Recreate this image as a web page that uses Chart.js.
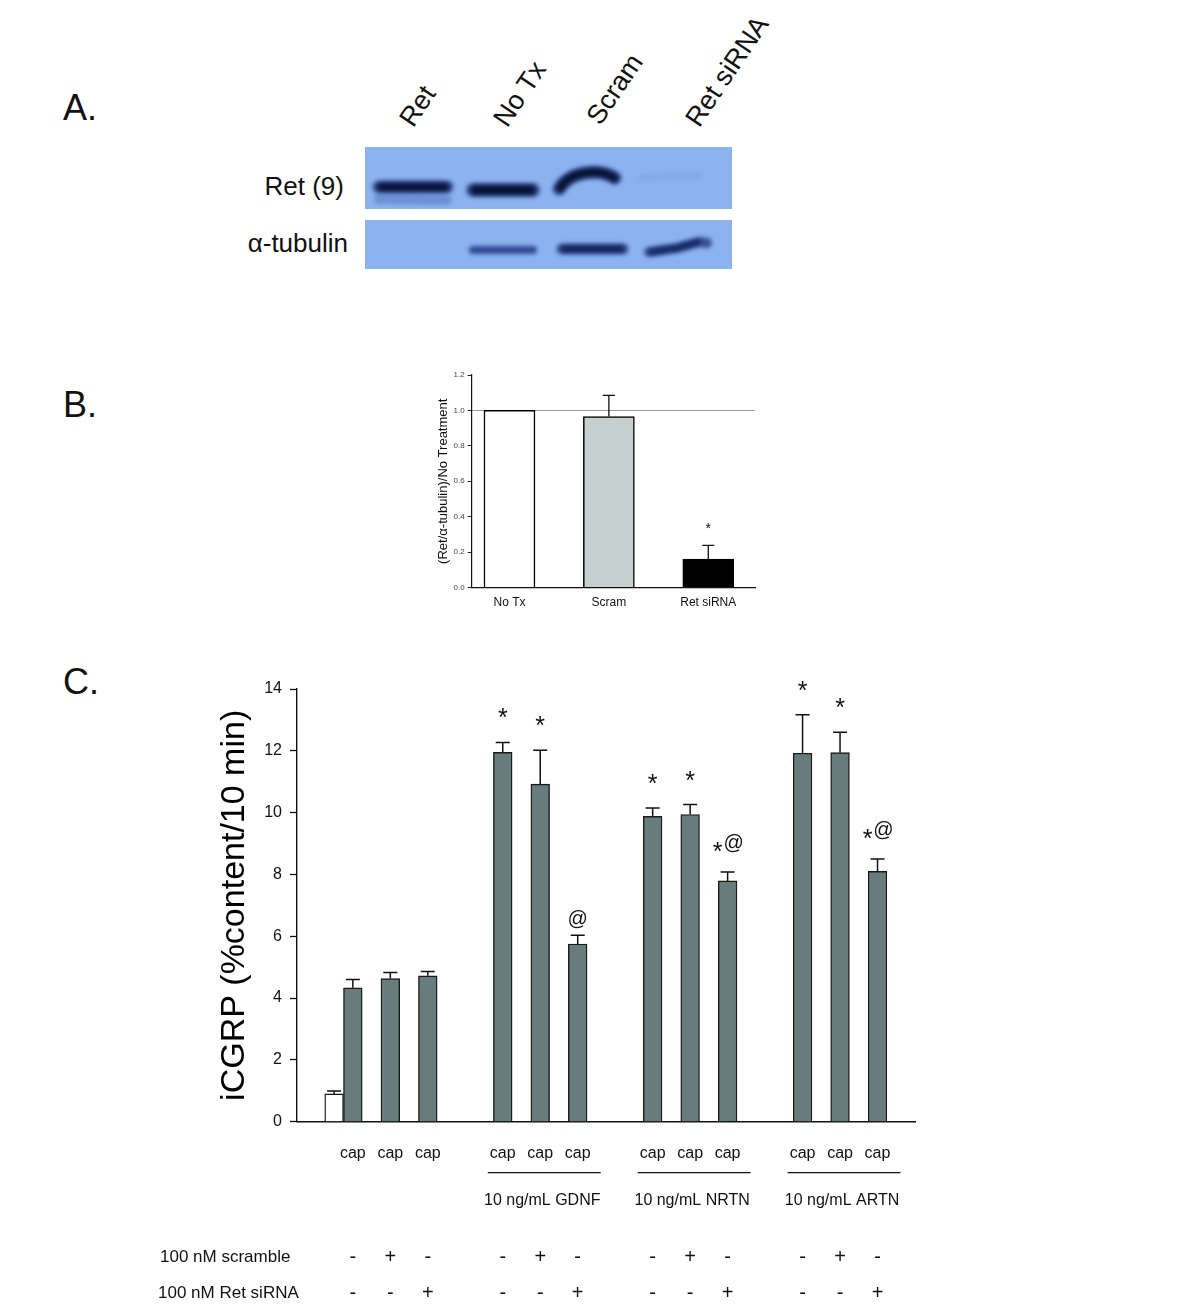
<!DOCTYPE html>
<html>
<head>
<meta charset="utf-8">
<script src="https://cdn.jsdelivr.net/npm/chart.js@4.4.1/dist/chart.umd.min.js"></script>
<style>
  html, body { margin: 0; padding: 0; background: #fff; }
  body { width: 1200px; height: 1307px; position: relative; overflow: hidden;
         font-family: Arial, "Liberation Sans", sans-serif; color: #111; }
  .lbl { position: absolute; white-space: nowrap; line-height: 1; }
  .panel { font-size: 36px; }
  .lane { font-size: 27px; transform: rotate(-56deg); transform-origin: 0 23px; }
  canvas { position: absolute; }
</style>
</head>
<body>

<div class="lbl panel" style="left:63px; top:90px;">A.</div>
<div class="lbl panel" style="left:63px; top:387px;">B.</div>
<div class="lbl panel" style="left:63px; top:664px;">C.</div>

<!-- blot lane labels -->
<div class="lbl lane" style="left:414px; top:106px;">Ret</div>
<div class="lbl lane" style="left:508px; top:106px;">No Tx</div>
<div class="lbl lane" style="left:601px; top:104px;">Scram</div>
<div class="lbl lane" style="left:700px; top:106px;">Ret siRNA</div>

<div class="lbl" style="left:0; width:344px; text-align:right; top:173px; font-size:26px;">Ret (9)</div>
<div class="lbl" style="left:0; width:348px; text-align:right; top:230px; font-size:26px;">&alpha;-tubulin</div>

<canvas id="blot" width="367" height="122" style="left:365px; top:147px;"></canvas>
<canvas id="chartB" width="350" height="260" style="left:420px; top:360px;"></canvas>
<canvas id="chartC" width="800" height="647" style="left:140px; top:660px;"></canvas>

<script>
const FONT = 'Arial, "Liberation Sans", sans-serif';
Chart.defaults.font.family = FONT;
Chart.defaults.color = '#111';

// ---- panel B data
const bCategories = ['No Tx', 'Scram', 'Ret siRNA'];
const bPositions = [0, 1, 2];
const bValues = [1.0, 0.965, 0.16];
const bErrors = [0, 0.12, 0.078];
const bMarks = ['', '', '*'];
const bColors = ['#ffffff', '#c5d0cf', '#000000'];

// ---- panel C data
const basalSlot = 0.5;
const basalValue = 0.9;
const basalError = 0.09;
const capSlots = [1, 2, 3, 5, 6, 7, 9, 10, 11, 13, 14, 15];
const capValues = [4.33, 4.63, 4.72, 11.95, 10.92, 5.75, 9.88, 9.94, 7.79, 11.92, 11.94, 8.1];
const capErrors = [0.27, 0.2, 0.14, 0.32, 1.1, 0.28, 0.27, 0.32, 0.29, 1.25, 0.66, 0.4];
const capMarks = ['', '', '', '*', '*', '@', '*', '*', '*@', '*', '*', '*@'];
const groupNames = ['10 ng/mL GDNF', '10 ng/mL NRTN', '10 ng/mL ARTN'];
const groupFirst = [5, 9, 13];
const groupLast = [7, 11, 15];
const scrambleRow = ['-', '+', '-', '-', '+', '-', '-', '+', '-', '-', '+', '-'];
const sirnaRow = ['-', '-', '+', '-', '-', '+', '-', '-', '+', '-', '-', '+'];

// ---- western blot (image part of panel A)
function drawBlot() {
    const ctx = document.getElementById('blot').getContext('2d');
    ctx.fillStyle = '#8cb3ee';
    ctx.fillRect(0, 0, 367, 62);
    ctx.fillRect(0, 73, 367, 49);

    function band(pts, width, color) {
        ctx.strokeStyle = color;
        ctx.lineWidth = width;
        ctx.lineCap = 'round';
        ctx.lineJoin = 'round';
        ctx.beginPath();
        ctx.moveTo(pts[0][0], pts[0][1]);
        for (let i = 1; i < pts.length; i++) ctx.lineTo(pts[i][0], pts[i][1]);
        ctx.stroke();
    }
    ctx.save();
    ctx.filter = 'blur(2px)';
    // Ret (9)
    band([[14, 52], [82, 53]], 10, 'rgba(50,80,165,0.35)');
    band([[14, 40], [82, 40]], 13, 'rgba(25,45,120,0.75)');
    band([[16, 40], [80, 40]], 8, '#081436');
    band([[108, 43], [168, 43]], 14, 'rgba(25,45,120,0.75)');
    band([[110, 43], [166, 43]], 9, '#071230');
    ctx.strokeStyle = 'rgba(25,45,120,0.75)';
    ctx.lineWidth = 13;
    ctx.beginPath(); ctx.moveTo(194, 42); ctx.bezierCurveTo(205, 24, 235, 21, 250, 31); ctx.stroke();
    ctx.strokeStyle = '#071230';
    ctx.lineWidth = 8;
    ctx.beginPath(); ctx.moveTo(195, 41); ctx.bezierCurveTo(205, 24, 235, 21, 249, 31); ctx.stroke();
    band([[275, 31], [335, 28]], 5, 'rgba(70,110,200,0.15)');
    // alpha-tubulin
    band([[108, 103], [168, 103]], 8, 'rgba(30,55,135,0.85)');
    band([[197, 102], [258, 102]], 11, 'rgba(25,45,120,0.75)');
    band([[199, 102], [256, 102]], 6, '#0f2157');
    band([[284, 105], [312, 101], [334, 95], [342, 96]], 10, 'rgba(25,45,120,0.75)');
    band([[286, 105], [312, 101], [333, 95]], 5, '#11245c');
    ctx.restore();
}
drawBlot();

// ---- error bars + significance marks
function drawMark(ctx, text, x, top, o) {
    ctx.textAlign = 'center';
    ctx.textBaseline = 'alphabetic';
    if (text === '*') {
        ctx.font = o.starSize + 'px ' + FONT;
        ctx.fillText('*', x, top - o.starGap + 0.6 * o.starSize);
    } else if (text === '@') {
        ctx.font = o.atSize + 'px ' + FONT;
        ctx.fillText('@', x, top - 10);
    } else if (text === '*@') {
        ctx.font = o.starSize + 'px ' + FONT;
        ctx.fillText('*', x - 10, top - 27 + 0.6 * o.starSize);
        ctx.font = o.atSize + 'px ' + FONT;
        ctx.fillText('@', x + 6, top - 23);
    }
}

const errorBars = {
    id: 'errorBars',
    afterDatasetsDraw(chart, args, o) {
        const ctx = chart.ctx;
        const ys = chart.scales.y;
        chart.data.datasets.forEach((ds, di) => {
            chart.getDatasetMeta(di).data.forEach((bar, i) => {
                const err = ds.errors[i];
                const top = ys.getPixelForValue(ds.data[i].y + err);
                ctx.save();
                if (err) {
                    ctx.strokeStyle = '#111';
                    ctx.lineWidth = o.width;
                    ctx.beginPath();
                    ctx.moveTo(bar.x, bar.y);
                    ctx.lineTo(bar.x, top);
                    ctx.moveTo(bar.x - o.cap / 2, top);
                    ctx.lineTo(bar.x + o.cap / 2, top);
                    ctx.stroke();
                }
                ctx.fillStyle = '#111';
                if (ds.marks[i]) drawMark(ctx, ds.marks[i], bar.x, top, o);
                ctx.restore();
            });
        });
    }
};

// PANEL B
new Chart(document.getElementById('chartB'), {
    type: 'bar',
    data: {
        datasets: [{
            data: bPositions.map((p, i) => ({ x: p, y: bValues[i] })),
            errors: bErrors,
            marks: bMarks,
            backgroundColor: bColors,
            borderColor: '#000',
            borderWidth: 1.5,
            barThickness: 51
        }]
    },
    options: {
        responsive: false,
        animation: false,
        layout: { padding: { left: 11.2, top: 15, right: 15, bottom: 0 } },
        plugins: {
            legend: { display: false },
            tooltip: { enabled: false },
            errorBars: { width: 1.3, cap: 12, starSize: 14, starGap: 21, atSize: 14 }
        },
        scales: {
            x: {
                type: 'linear', min: -0.38, max: 2.47, offset: false,
                afterBuildTicks: s => { s.ticks = bPositions.map(v => ({ value: v })); },
                afterFit: s => { s.height = 32.5; },
                grid: { display: false, drawTicks: false },
                border: { display: true, color: '#111', width: 1.2 },
                ticks: { callback: (v, i) => bCategories[i], autoSkip: false, maxRotation: 0,
                         padding: 7.5, font: { size: 12 }, color: '#111' }
            },
            y: {
                min: 0, max: 1.2,
                afterFit: s => { s.width = 40.5; },
                ticks: { stepSize: 0.2, padding: 3, font: { size: 8 }, color: '#444',
                         callback: v => v.toFixed(1) },
                grid: {
                    drawTicks: true, tickLength: 4, tickColor: '#222', tickWidth: 1,
                    color: c => (c.tick && Math.abs(c.tick.value - 1) < 1e-6) ? '#9a9a9a' : 'rgba(0,0,0,0)'
                },
                border: { display: true, color: '#111', width: 1.2 },
                title: { display: true, text: '(Ret/\u03b1-tubulin)/No Treatment',
                         font: { size: 13 }, color: '#111' }
            }
        }
    },
    plugins: [errorBars]
});

// rows under panel C
const conditionRows = {
    id: 'conditionRows',
    afterDraw(chart) {
        const { ctx, chartArea, scales: { x } } = chart;
        const b = chartArea.bottom;
        ctx.save();
        ctx.fillStyle = '#111';
        ctx.strokeStyle = '#111';
        ctx.lineWidth = 1.3;
        ctx.textBaseline = 'middle';
        ctx.textAlign = 'center';
        ctx.font = '16px ' + FONT;
        groupNames.forEach((name, g) => {
            const x0 = x.getPixelForValue(groupFirst[g]);
            const x1 = x.getPixelForValue(groupLast[g]);
            ctx.beginPath();
            ctx.moveTo(x0 - 15, b + 51);
            ctx.lineTo(x1 + 23, b + 51);
            ctx.stroke();
            ctx.fillText(name, (x0 + x1) / 2 + 2, b + 79);
        });
        ctx.textAlign = 'left';
        ctx.font = '17px ' + FONT;
        ctx.fillText('100 nM scramble', 20, b + 136);
        ctx.fillText('100 nM Ret siRNA', 18, b + 172);
        ctx.textAlign = 'center';
        ctx.font = '20px ' + FONT;
        capSlots.forEach((s, i) => {
            const px = x.getPixelForValue(s);
            ctx.fillText(scrambleRow[i], px, b + 136);
            ctx.fillText(sirnaRow[i], px, b + 172);
        });
        ctx.restore();
    }
};

// PANEL C
new Chart(document.getElementById('chartC'), {
    type: 'bar',
    data: {
        datasets: [{
            data: [{ x: basalSlot, y: basalValue }].concat(capSlots.map((s, i) => ({ x: s, y: capValues[i] }))),
            errors: [basalError].concat(capErrors),
            marks: [''].concat(capMarks),
            backgroundColor: ['#ffffff'].concat(capSlots.map(() => '#687c7c')),
            borderColor: '#1a1a1a',
            borderWidth: 1.4,
            barThickness: 18.7
        }]
    },
    options: {
        responsive: false,
        animation: false,
        layout: { padding: { left: 70, top: 29, right: 25, bottom: 0 } },
        plugins: {
            legend: { display: false },
            tooltip: { enabled: false },
            errorBars: { width: 1.5, cap: 14, starSize: 25, starGap: 31, atSize: 20 }
        },
        scales: {
            x: {
                type: 'linear', min: -0.49, max: 16, offset: false,
                afterBuildTicks: s => { s.ticks = capSlots.map(v => ({ value: v })); },
                afterFit: s => { s.height = 185.3; },
                grid: { display: false, drawTicks: false },
                border: { display: true, color: '#111', width: 1.4 },
                ticks: { callback: () => 'cap', autoSkip: false, maxRotation: 0,
                         padding: 22, font: { size: 16 }, color: '#111' }
            },
            y: {
                min: 0, max: 14,
                afterFit: s => { s.width = 87; },
                ticks: { stepSize: 2, padding: 8, font: { size: 16 }, color: '#111' },
                grid: { drawOnChartArea: false, drawTicks: true, tickLength: 7,
                        tickColor: '#111', tickWidth: 1.3 },
                border: { display: true, color: '#111', width: 1.4 },
                title: { display: true, text: 'iCGRP (%content/10 min)',
                         font: { size: 34 }, color: '#000' }
            }
        }
    },
    plugins: [errorBars, conditionRows]
});
</script>
</body>
</html>
